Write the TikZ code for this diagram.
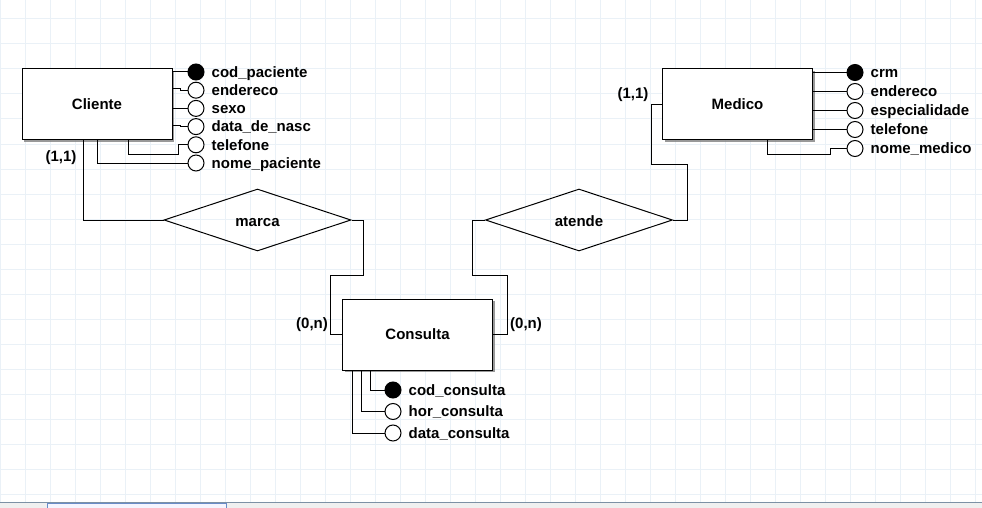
\documentclass[tikz,border=0pt]{standalone}
\usepackage{fontspec}
\setmainfont{Liberation Sans}
\usepackage{tikz}
\usetikzlibrary{shapes.geometric, shadows, positioning}
\definecolor{gridblue}{RGB}{234,241,247}
\definecolor{barline}{RGB}{125,145,165}
\definecolor{thumbline}{RGB}{105,140,200}
\tikzstyle{entity} = [rectangle, minimum width=150pt, minimum height=71pt, draw=black, fill=white, line width=1pt, drop shadow={shadow xshift=2pt, shadow yshift=-2pt, fill=gray, opacity=0.8}]
\tikzstyle{rel} = [diamond, minimum width=187pt, minimum height=62pt, inner sep=0pt, draw=black, line width=1pt, text height=13pt, text depth=0pt]
\tikzstyle{attr} = [circle, minimum size=16pt, inner sep=0pt, draw=black, fill=white, line width=1pt]
\tikzstyle{pk} = [attr, fill=black]
\tikzstyle{lbl} = [inner sep=0pt, xshift=7pt, text height=10.5pt, text depth=0pt]
\tikzstyle{link} = [line width=1pt]
\tikzstyle{gridline} = [draw=gridblue, line width=1pt]
\begin{document}
\begin{tikzpicture}[x=1pt, y=-1pt, font=\fontsize{15}{17}\selectfont\bfseries]
\fill[white] (0,0) rectangle (982,508);
\useasboundingbox (0,0) rectangle (982,508);
\foreach \gx in {0,25,...,975} \draw[gridline] (\gx,0) -- (\gx,502);
\foreach \gy in {19,44,...,494} \draw[gridline] (0,\gy) -- (982,\gy);
\fill[gray!12] (0,502) rectangle (982,508);
\draw[barline] (0,502.5) -- (982,502.5);
\draw[thumbline, fill=blue!4] (47,503) rectangle (226,509);

\node[entity] (cli) at (97,104.5) {Cliente};
\node[entity] (med) at (737.5,104.5) {Medico};
\node[entity] (con) at (417.5,334.5) {Consulta};
\node[rel] (marca) at (257.5,220) {marca};
\node[rel] (atende) at (579,220) {atende};

\node (c1) at (61,158) {(1,1)};
\node (c2) at (312,325) {(0,n)};
\node (c3) at (526,325) {(0,n)};
\node (c4) at (633,95) {(1,1)};

\draw[link] ([xshift=-14pt]cli.south) |- (marca.west);
\draw[link] (marca.east) -- ++(12,0) -- ++(0,55) -| ([xshift=-12pt]con.west) -- (con.west);
\draw[link] (atende.west) -- ++(-13,0) -- ++(0,55) -| ([xshift=14pt]con.east) -- (con.east);
\draw[link] (med.west) -- ++(-11,0) -- ++(0,60) -| ([xshift=14pt]atende.east) -- (atende.east);

\begin{scope}[node distance=18.2pt]
\node[pk, label={[lbl]right:cod\_paciente}] (cp) at (196,72) {};
\node[attr, below of=cp, label={[lbl]right:endereco}] (ce) {};
\node[attr, below of=ce, label={[lbl]right:sexo}] (cs) {};
\node[attr, below of=cs, label={[lbl]right:data\_de\_nasc}] (cd) {};
\node[attr, below of=cd, label={[lbl]right:telefone}] (ct) {};
\node[attr, below of=ct, label={[lbl]right:nome\_paciente}] (cn) {};
\end{scope}
\draw[link] (cli.east |- cp) -- (cp);
\draw[link] (cli.east |- ce) ++(0,-2) -- ++(8,0) |- (ce);
\draw[link] (cli.east |- cs) -- (cs);
\draw[link] (cli.east |- cd) ++(0,-1.5) -- ++(8,0) |- (cd);
\draw[link] ([xshift=31pt]cli.south) -- ++(0,14) -- ++(50,0) |- (ct);
\draw[link] (cli.south) |- (cn);

\begin{scope}[node distance=19pt]
\node[pk, label={[lbl]right:crm}] (mc) at (855,72.5) {};
\node[attr, below of=mc, label={[lbl]right:endereco}] (me) {};
\node[attr, below of=me, label={[lbl]right:especialidade}] (ms) {};
\node[attr, below of=ms, label={[lbl]right:telefone}] (mt) {};
\node[attr, below of=mt, label={[lbl]right:nome\_medico}] (mn) {};
\end{scope}
\draw[link] (med.east |- mc) -- (mc);
\draw[link] (med.east |- me) -- (me);
\draw[link] (med.east |- ms) -- (ms);
\draw[link] (med.east |- mt) -- (mt);
\draw[link] ([xshift=30pt]med.south) -- ++(0,14) -- ++(63,0) |- (mn);

\begin{scope}[node distance=21.5pt]
\node[pk, label={[lbl]right:cod\_consulta}] (kc) at (393,390) {};
\node[attr, below of=kc, label={[lbl]right:hor\_consulta}] (kh) {};
\node[attr, below of=kh, label={[lbl]right:data\_consulta}] (kd) {};
\end{scope}
\draw[link] ([xshift=-47pt]con.south) |- (kc);
\draw[link] ([xshift=-56pt]con.south) |- (kh);
\draw[link] ([xshift=-65pt]con.south) |- (kd);
\end{tikzpicture}
\end{document}
